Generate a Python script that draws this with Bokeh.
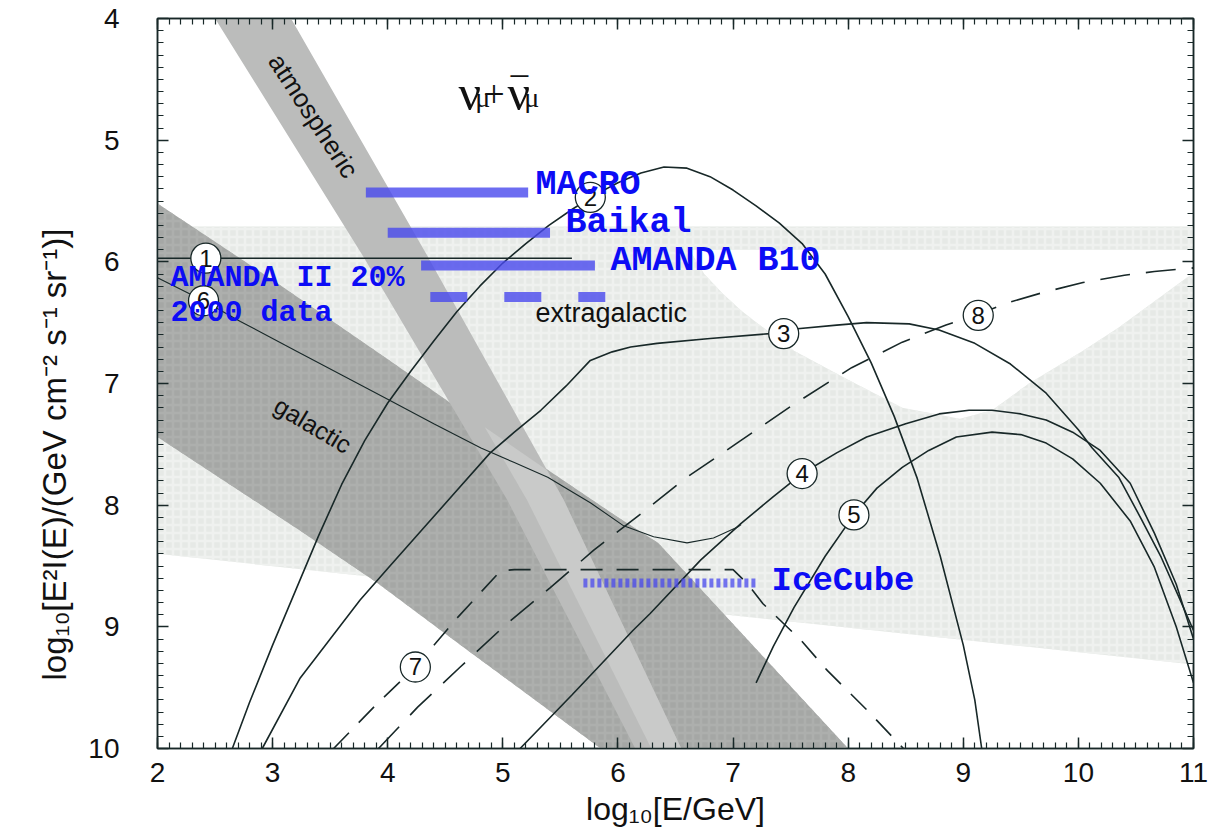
import numpy as np
from bokeh.plotting import figure
from bokeh.models import Range1d, LinearAxis, SingleIntervalTicker, Label, Title
from bokeh.core.properties import value
from bokeh.embed import file_html
from bokeh.resources import INLINE

# x: log10(E/GeV), y: log10(E^2 I(E)) with 4 at the top

# extragalactic allowed region (light band) with the white notch on the right
extra_top_y = 5.71
extra_notch_top_y = 5.90
notch_x = [6.62, 6.75, 6.91, 7.07, 7.22, 7.53, 8.00, 8.47, 8.97, 9.25, 9.57, 10.04, 10.35, 10.94, 11.0]
notch_y = [5.90, 6.10, 6.26, 6.40, 6.51, 6.73, 6.97, 7.20, 7.29, 7.22, 7.00, 6.73, 6.54, 6.13, 6.10]
extra_low_x = [11.0, 2.0]
extra_low_y = [9.31, 8.40]

# galactic band
gal_top_x = [2.0, 3.0, 4.0, 5.0, 6.0, 6.35, 8.0]
gal_top_y = [5.52, 6.15, 6.80, 7.46, 8.10, 8.31, 10.0]
gal_bot_x = [5.85, 4.69, 3.91, 3.24, 2.0]
gal_bot_y = [10.0, 9.19, 8.64, 8.21, 7.44]

# atmospheric band
atm_y = [4.0, 5.96, 7.96, 10.0]
atm_left_x = [2.50, 3.79, 5.04, 6.15]
atm_right_x = [3.16, 4.35, 5.53, 6.55]

# model curves
c1_x = [2.0, 5.60]
c1_y = [5.97, 5.97]
c2_x = [2.65, 2.8, 3.0, 3.2, 3.4, 3.6, 3.8, 4.0, 4.2, 4.4, 4.6, 4.8, 5.0, 5.2, 5.4, 5.6, 5.8,
        6.0, 6.2, 6.4, 6.6, 6.8, 7.0, 7.2, 7.4, 7.6, 7.8, 8.0, 8.2, 8.4, 8.6, 8.8, 9.0, 9.1, 9.16]
c2_y = [10.0, 9.62, 9.15, 8.70, 8.25, 7.83, 7.47, 7.16, 6.90, 6.65, 6.41, 6.20, 6.01, 5.85, 5.70, 5.57, 5.45,
        5.35, 5.27, 5.22, 5.23, 5.30, 5.41, 5.54, 5.68, 5.85, 6.10, 6.45, 6.83, 7.27, 7.78, 8.42, 9.15, 9.60, 10.0]
c3_x = [2.91, 3.24, 3.5, 3.76, 4.0, 4.3, 4.6, 4.89, 5.1, 5.33, 5.55, 5.76, 5.95, 6.11, 6.34, 6.8, 7.32, 7.56,
        7.9, 8.16, 8.53, 8.79, 9.10, 9.41, 9.72, 10.0, 10.12, 10.35, 10.55, 10.72, 10.88, 11.0]
c3_y = [10.0, 9.42, 9.10, 8.78, 8.52, 8.20, 7.88, 7.57, 7.40, 7.22, 7.02, 6.81, 6.74, 6.70, 6.67, 6.63, 6.59, 6.55,
        6.52, 6.50, 6.51, 6.56, 6.67, 6.84, 7.08, 7.38, 7.53, 7.77, 8.12, 8.43, 8.77, 9.03]
c4_x = [5.15, 5.6, 6.13, 6.28, 6.72, 7.07, 7.35, 7.60, 7.9, 8.16, 8.5, 8.79, 9.05, 9.25, 9.5, 9.72, 9.95,
        10.19, 10.45, 10.66, 10.85, 11.0]
c4_y = [10.0, 9.56, 9.03, 8.89, 8.45, 8.15, 7.93, 7.74, 7.57, 7.44, 7.33, 7.25, 7.22, 7.22, 7.25, 7.30, 7.40,
        7.55, 7.82, 8.23, 8.65, 9.10]
c5_x = [7.20, 7.35, 7.53, 7.8, 8.05, 8.25, 8.47, 8.7, 8.94, 9.25, 9.5, 9.72, 9.95, 10.19, 10.45, 10.66, 10.85, 11.0]
c5_y = [9.46, 9.16, 8.84, 8.42, 8.08, 7.86, 7.69, 7.55, 7.44, 7.40, 7.42, 7.49, 7.62, 7.82, 8.13, 8.51, 9.00, 9.46]
c6_x = [2.0, 2.4, 2.72, 3.2, 3.6, 4.02, 4.4, 4.81, 5.1, 5.39, 5.76, 6.05, 6.31, 6.60, 6.83, 7.04, 7.07]
c6_y = [6.13, 6.32, 6.49, 6.73, 6.93, 7.14, 7.33, 7.53, 7.65, 7.77, 7.98, 8.17, 8.26, 8.31, 8.27, 8.18, 8.16]
c7_x = [3.53, 3.91, 4.24, 4.61, 4.98, 5.1, 7.0, 7.12, 7.26, 7.59, 7.82, 8.17, 8.48]
c7_y = [10.0, 9.63, 9.33, 8.92, 8.54, 8.53, 8.53, 8.64, 8.81, 9.11, 9.36, 9.69, 10.0]
c8_x = [3.92, 4.26, 4.63, 5.04, 5.41, 5.79, 6.20, 6.60, 7.05, 7.53, 8.03, 8.47, 8.85, 9.13, 9.41, 9.70,
        10.04, 10.40, 10.66, 11.0]
c8_y = [10.0, 9.66, 9.33, 8.97, 8.68, 8.37, 8.07, 7.77, 7.48, 7.17, 6.87, 6.66, 6.52, 6.43, 6.33, 6.25,
        6.17, 6.11, 6.08, 6.05]

# curve tags
tag_text = ["1", "6", "2", "3", "8", "4", "5", "7"]
tag_x = [2.42, 2.40, 5.76, 7.44, 9.13, 7.60, 8.05, 4.24]
tag_y = [5.97, 6.32, 5.47, 6.59, 6.44, 7.74, 8.08, 9.33]

# experimental limits
limit_names = ["MACRO", "Baikal", "AMANDA B10"]
limit_x0 = [3.81, 4.00, 4.29]
limit_x1 = [5.22, 5.41, 5.80]
limit_y = [5.43, 5.76, 6.03]
amanda2_x = [4.37, 5.89]
amanda2_y = [6.29, 6.29]
icecube_x = [5.70, 7.21]
icecube_y = [8.64, 8.64]

INK = "#182828"
BLUE_BAR = "#4848ee"
BLUE_TXT = "#0c0cf5"
TEXT = "#111111"

p = figure(width=1215, height=838, x_range=Range1d(2, 11), y_range=Range1d(10, 4),
           output_backend="svg", toolbar_location=None,
           min_border_left=157, min_border_right=22, min_border_top=18, min_border_bottom=90)
p.xgrid.visible = False
p.ygrid.visible = False
p.background_fill_color = "white"
p.border_fill_color = "white"
p.outline_line_color = INK
p.outline_line_width = 1.5

# light extragalactic region
ex_xs = [2.0, 11.0, 11.0] + notch_x + extra_low_x
ex_ys = [extra_top_y, extra_top_y, extra_notch_top_y] + notch_y + extra_low_y
p.patch(ex_xs, ex_ys, fill_color="#e6e9e6", line_color=None,
        hatch_pattern="+", hatch_color="#f0f2f0", hatch_scale=8, hatch_weight=2.5, hatch_alpha=0.9)

# galactic band
p.patch(gal_top_x + gal_bot_x, gal_top_y + gal_bot_y, fill_color="#a5a7a5", line_color=None,
        hatch_pattern="+", hatch_color="#aeb0ae", hatch_scale=8, hatch_weight=2.5, hatch_alpha=0.9)

# atmospheric band
p.patch(atm_left_x + atm_right_x[::-1], atm_y + atm_y[::-1], fill_color="#bbbcbb", line_color=None)

# lighter part of the atmospheric band where it crosses the galactic band
yy = np.linspace(4.0, 10.0, 601)
lx = np.interp(yy, atm_y, atm_left_x)
rx = np.interp(yy, atm_y, atm_right_x)
mx = lx + 0.35 * (rx - lx)
im = int(np.argmax(yy >= np.interp(mx, gal_top_x, gal_top_y)))
ir = int(np.argmax(yy >= np.interp(rx, gal_top_x, gal_top_y)))
p.patch(list(mx[im:]) + list(rx[ir:][::-1]), list(yy[im:]) + list(yy[ir:][::-1]),
        fill_color="#c9cac9", line_color=None)

# model curves
for xs, ys, w, dash in [(c1_x, c1_y, 1.6, "solid"), (c2_x, c2_y, 1.6, "solid"), (c3_x, c3_y, 1.6, "solid"),
                        (c4_x, c4_y, 1.6, "solid"), (c5_x, c5_y, 1.6, "solid"), (c6_x, c6_y, 1.1, "solid"),
                        (c7_x, c7_y, 1.6, "22 14"), (c8_x, c8_y, 1.6, "30 16")]:
    p.line(xs, ys, line_color=INK, line_width=w, line_dash=dash)

# limits
p.segment(x0=limit_x0, y0=limit_y, x1=limit_x1, y1=limit_y, line_color=BLUE_BAR, line_alpha=0.8,
          line_width=10, line_cap="butt")
p.line(amanda2_x, amanda2_y, line_color=BLUE_BAR, line_alpha=0.8, line_width=10, line_dash="37 37",
       line_cap="butt")
p.line(icecube_x, icecube_y, line_color=BLUE_BAR, line_alpha=0.75, line_width=9, line_dash="4 3",
       line_cap="butt")

# curve tags
p.scatter(tag_x, tag_y, marker="circle", size=30, fill_color="white", line_color=INK, line_width=1.3)
p.text(tag_x, tag_y, text=tag_text, text_align="center", text_baseline="middle",
       text_font=value("Liberation Sans"), text_font_size="24px", text_color=TEXT)

# region names
for txt, x, y, ang, size in [("atmospheric", 3.355, 4.80, -0.995, "26px"),
                             ("galactic", 3.35, 7.34, -0.54, "25px")]:
    p.add_layout(Label(x=x, y=y, text=txt, angle=ang, text_align="center", text_baseline="middle",
                       text_font="Liberation Sans", text_font_size=size, text_color=TEXT))
p.add_layout(Label(x=5.284, y=6.42, text="extragalactic", text_align="left", text_baseline="middle",
                   text_font="Liberation Sans", text_font_size="27px", text_color=TEXT))

# experiment names
for txt, x, y, size in [("MACRO", 5.284, 5.37, "35px"), ("Baikal", 5.545, 5.68, "35px"),
                        ("AMANDA B10", 5.935, 5.99, "35px"), ("IceCube", 7.335, 8.62, "34px"),
                        ("AMANDA II 20%", 2.113, 6.13, "30px"), ("2000 data", 2.113, 6.42, "30px")]:
    p.add_layout(Label(x=x, y=y, text=txt, text_align="left", text_baseline="middle",
                       text_font="Liberation Mono", text_font_style="bold", text_font_size=size,
                       text_color=BLUE_TXT))

# flavour title: nu_mu + anti-nu_mu
for txt, x, y, size, align in [("ν", 4.615, 4.615, "50px", "left"), ("μ", 4.76, 4.65, "28px", "left"),
                               ("+", 4.83, 4.625, "38px", "left"), ("ν", 5.041, 4.615, "50px", "left"),
                               ("μ", 5.185, 4.65, "28px", "left"), ("‾", 5.145, 4.64, "46px", "center")]:
    p.add_layout(Label(x=x, y=y, text=txt, text_align=align, text_baseline="alphabetic",
                       text_font="Liberation Serif", text_font_size=size, text_color=TEXT))

# vertical axis title as a side title so it can be anchored at the bottom and reads upward
p.add_layout(Title(text="log₁₀[E²I(E)/(GeV cm⁻² s⁻¹ sr⁻¹)]", align="left", offset=68, standoff=26,
                   text_font="Liberation Sans", text_font_size="33px", text_font_style="normal",
                   text_color=TEXT), "left")

# axes
def style_axis(ax, show_labels):
    ax.ticker = SingleIntervalTicker(interval=1, num_minor_ticks=10)
    ax.axis_line_color = INK
    ax.axis_line_width = 1.5
    ax.major_tick_line_color = INK
    ax.minor_tick_line_color = INK
    ax.major_tick_line_width = 1.5
    ax.minor_tick_line_width = 1.2
    ax.major_tick_in = 11
    ax.major_tick_out = 0
    ax.minor_tick_in = 6
    ax.minor_tick_out = 0
    if show_labels:
        ax.major_label_text_font = "Liberation Sans"
        ax.major_label_text_font_size = "28px"
        ax.major_label_text_color = TEXT
        ax.axis_label_text_font = "Liberation Sans"
        ax.axis_label_text_font_size = "32px"
        ax.axis_label_text_font_style = "normal"
        ax.axis_label_text_color = TEXT
    else:
        ax.major_label_text_color = None
        ax.major_label_text_font_size = "1px"

xa = p.xaxis[0]
ya = p.yaxis[0]
style_axis(xa, True)
style_axis(ya, True)
xa.axis_label = "log₁₀[E/GeV]"
xa.major_label_standoff = 14
ya.major_label_standoff = 38
xa.axis_label_standoff = 6

top_ax = LinearAxis()
right_ax = LinearAxis()
style_axis(top_ax, False)
style_axis(right_ax, False)
p.add_layout(top_ax, "above")
p.add_layout(right_ax, "right")

open("out.html", "w").write(file_html(p, INLINE))
